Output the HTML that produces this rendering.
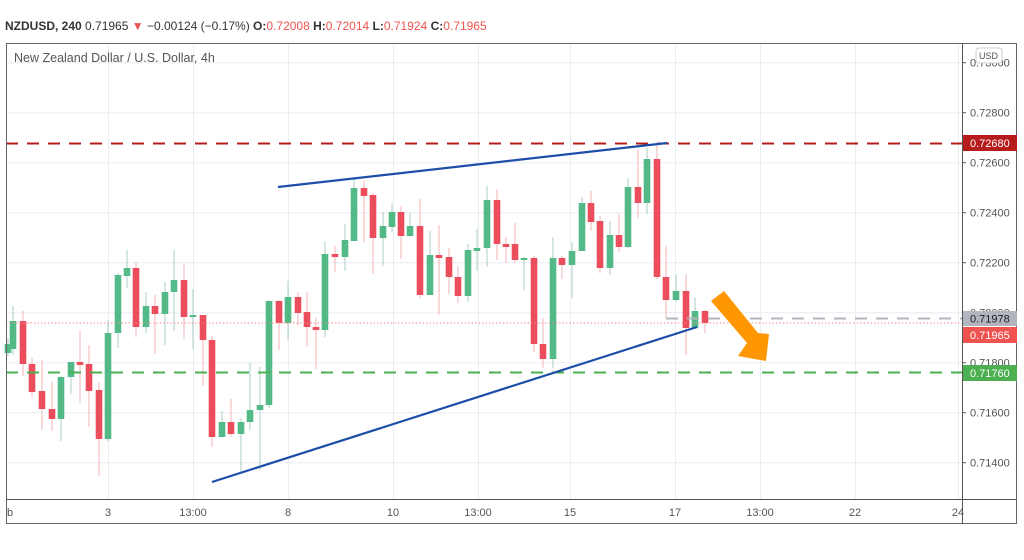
<!DOCTYPE html>
<html><head><meta charset="utf-8"><style>
html,body{margin:0;padding:0;background:#fff;}
svg{display:block;font-family:"Liberation Sans",sans-serif;}
</style></head><body>
<svg id="s" width="1024" height="560" viewBox="0 0 1024 560" xmlns="http://www.w3.org/2000/svg">
<rect width="1024" height="560" fill="#fff"/>
<g id="grid" stroke="#e9eef3" stroke-width="1"></g>
<g id="candles"></g>
<line x1="6" y1="143.5" x2="962" y2="143.5" stroke="#b71c1c" stroke-width="2" stroke-dasharray="12,9"/>
<line x1="6" y1="372.5" x2="962" y2="372.5" stroke="#4caf50" stroke-width="2" stroke-dasharray="12,9"/>
<line x1="666" y1="318.5" x2="962" y2="318.5" stroke="#b2b5be" stroke-width="2" stroke-dasharray="12,9"/>
<line x1="6" y1="323" x2="962" y2="323" stroke="#f28b8b" stroke-width="1" stroke-dasharray="1.5,2"/>
<line x1="278" y1="187" x2="667" y2="143" stroke="#1e4fa8" stroke-width="2.2"/>
<line x1="212" y1="482" x2="697" y2="327" stroke="#1e4fa8" stroke-width="2.2"/>
<polygon points="711,301 724,291 758,333 769,334 766,361 738,356 747,343" fill="#ff9800"/>
<rect x="6.5" y="43.5" width="1010" height="480" fill="none" stroke="#666" stroke-width="1"/>
<line x1="962.5" y1="43" x2="962.5" y2="524" stroke="#555"/>
<line x1="6" y1="499.5" x2="1017" y2="499.5" stroke="#555"/>
<g id="axis" font-size="11" fill="#555"></g>
<rect x="963" y="135" width="54" height="16" fill="#b71c1c"/>
<text x="970" y="147" font-size="11" fill="#fff">0.72680</text>
<rect x="963" y="311" width="54" height="15" fill="#b2b5be"/>
<text x="970" y="322.5" font-size="11" fill="#222">0.71978</text>
<rect x="963" y="327" width="54" height="16" fill="#ef5350"/>
<text x="970" y="339" font-size="11" fill="#fff">0.71965</text>
<rect x="963" y="365" width="54" height="16" fill="#4caf50"/>
<text x="970" y="377" font-size="11" fill="#fff">0.71760</text>
<rect x="976" y="48" width="26" height="15" rx="3" fill="#fff" stroke="#ccc"/>
<text x="979" y="59" font-size="9" fill="#555">USD</text>
<text x="5" y="30" font-size="12" fill="#333"><tspan font-weight="bold">NZDUSD, 240</tspan> 0.71965 <tspan fill="#ef5350">▼</tspan> −0.00124 (−0.17%) <tspan font-weight="bold">O:</tspan><tspan fill="#ef5350">0.72008</tspan> <tspan font-weight="bold">H:</tspan><tspan fill="#ef5350">0.72014</tspan> <tspan font-weight="bold">L:</tspan><tspan fill="#ef5350">0.71924</tspan> <tspan font-weight="bold">C:</tspan><tspan fill="#ef5350">0.71965</tspan></text>
<text x="14" y="62" font-size="12.5" fill="#555">New Zealand Dollar / U.S. Dollar, 4h</text>
</svg>
<script>
var NS="http://www.w3.org/2000/svg";
function el(p,t,a){var e=document.createElementNS(NS,t);for(var k in a)e.setAttribute(k,a[k]);p.appendChild(e);return e;}
var g=document.getElementById("grid");
[108,193,288,393,478,570,675,760,855,958].forEach(function(x){el(g,"line",{x1:x+.5,y1:44,x2:x+.5,y2:499});});
var prices=["0.73000","0.72800","0.72600","0.72400","0.72200","0.72000","0.71800","0.71600","0.71400"];
var ax=document.getElementById("axis");
prices.forEach(function(p,i){var y=62.7+i*50;el(g,"line",{x1:6,y1:y,x2:962,y2:y});
el(ax,"line",{x1:962,y1:y,x2:966,y2:y,stroke:"#555"});
var t=el(ax,"text",{x:970,y:y+4});t.textContent=p;});
var tl=[[10,"b"],[108,"3"],[193,"13:00"],[288,"8"],[393,"10"],[478,"13:00"],[570,"15"],[675,"17"],[760,"13:00"],[855,"22"],[958,"24"]];
tl.forEach(function(a){var t=el(ax,"text",{x:a[0],y:516,"text-anchor":"middle"});t.textContent=a[1];});
var c=[[8,1,344,353,338,356],[13,1,321,349,306,355],[23,0,321,364,311,376],[32,0,364,392,358,397],[42,0,391,409,360,430],[52,0,409,419,382,431],
[61,1,377,419,376,441],[71,1,362,377,362,394],[80,0,362,365,330,403],[89,0,364,391,345,427],[99,0,390,439,382,476],[108,1,333,439,320,441],
[118,1,275,333,273,348],[127,1,268,276,250,288],[136,0,268,327,262,337],[146,1,306,327,292,333],[155,0,306,314,295,354],[165,1,292,314,282,345],
[174,1,280,292,250,331],[184,0,280,317,263,339],[193,1,315,317,289,349],[203,0,315,340,315,386],[212,0,340,437,336,447],[222,1,422,437,411,437],
[231,0,422,434,399,437],[241,1,422,434,418,472],[250,1,410,422,363,430],[260,1,405,410,367,470],[269,1,301,405,300,408],[279,0,301,323,300,350],
[288,1,297,323,281,340],[298,0,297,313,292,325],[307,0,312,327,292,347],[316,0,327,330,318,369],[325,1,254,330,241,337],[335,0,254,257,246,272],
[345,1,240,257,224,271],[354,1,188,241,178,241],[364,0,188,196,181,242],[373,0,195,238,193,274],[383,1,226,238,212,266],[392,1,212,227,204,232],
[401,0,212,236,206,259],[410,1,226,236,213,237],[420,0,226,295,199,298],[430,1,255,295,231,295],[439,0,255,258,225,315],[449,0,257,277,248,294],
[458,0,277,296,266,303],[468,1,250,296,244,302],[477,1,248,251,229,271],[487,1,200,248,186,267],[497,0,200,244,189,260],[506,0,244,247,237,263],
[515,0,244,260,223,263],[524,1,258,260,257,290],[534,0,258,344,256,352],[543,0,344,359,318,368],[553,1,258,359,237,368],[562,0,258,265,256,279],
[572,1,251,265,242,298],[582,1,203,251,197,251],[591,0,203,222,191,231],[600,0,221,268,216,273],[610,1,235,268,221,275],[619,0,235,247,214,252],
[628,1,187,247,178,248],[638,0,187,203,150,218],[647,1,159,203,148,214],[657,0,159,277,145,279],[666,0,277,300,246,318],[676,1,291,300,275,301],
[686,0,291,328,274,355],[695,1,311,328,297,329],[705,0,311,323,310,333]];
var cg=document.getElementById("candles");
c.forEach(function(a){var col=a[1]?"#53b987":"#eb4d5c",wc=a[1]?"#a9cfc6":"#f6b3b6";
var x=a[0];el(cg,"line",{x1:x,y1:a[4],x2:x,y2:a[5],stroke:wc,"stroke-width":1});
var h=Math.max(2,a[3]-a[2]);el(cg,"rect",{x:x-3.3,y:a[2],width:6.6,height:h,fill:col});});
</script>
</body></html>
